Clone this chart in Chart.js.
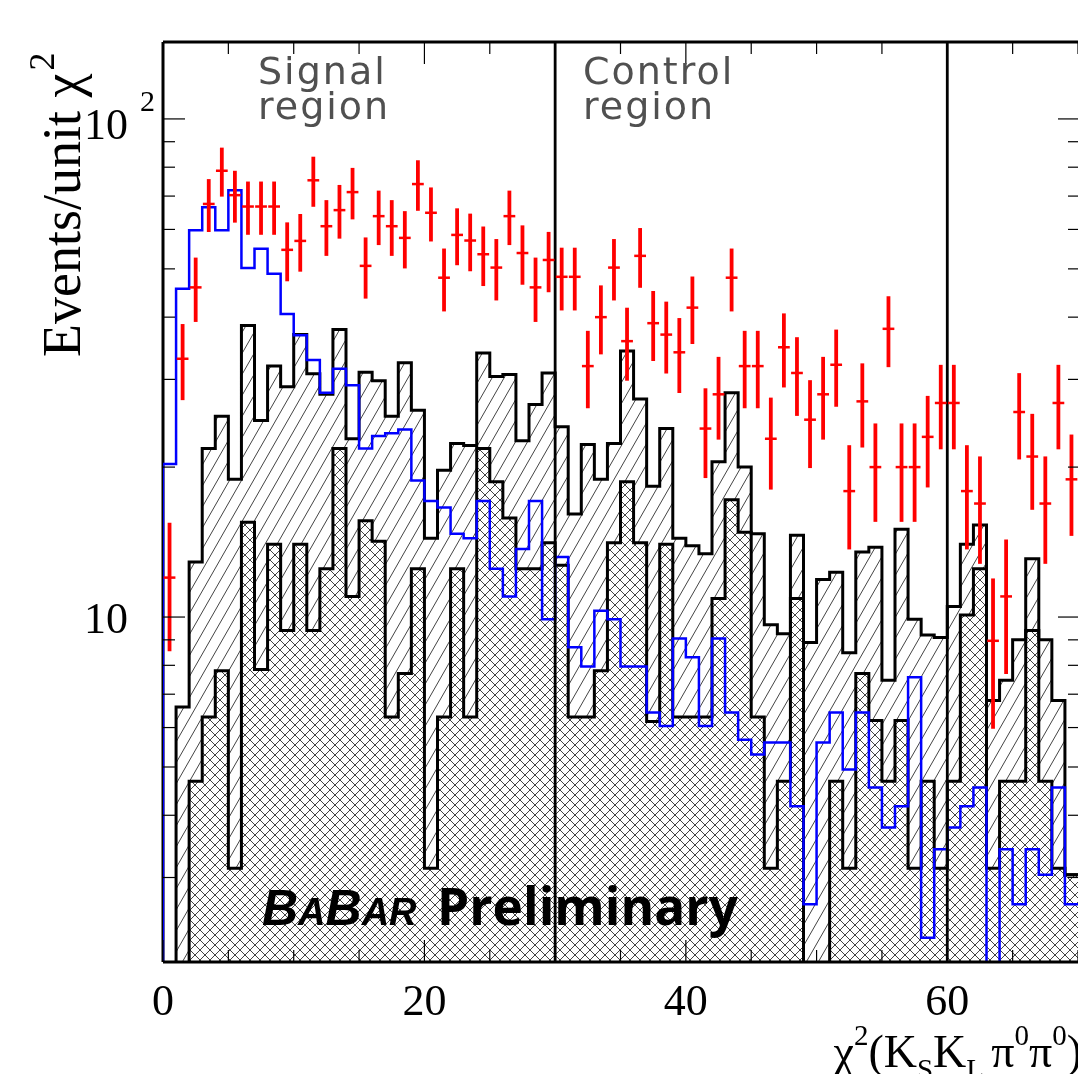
<!DOCTYPE html>
<html><head><meta charset="utf-8">
<script src="https://cdn.jsdelivr.net/npm/chart.js@4.4.1/dist/chart.umd.min.js"></script>
<style>html,body{margin:0;padding:0;background:#fff;overflow:hidden}#wrap{width:1078px;height:1074px;position:relative}</style>
</head><body><div id="wrap"><canvas id="c" width="1078" height="1074"></canvas></div>
<script>
// ---- data (bin width 1 unit of chi2) ----
const binLow = [0,1,2,3,4,5,6,7,8,9,10,11,12,13,14,15,16,17,18,19,20,21,22,23,24,25,26,27,28,29,30,31,32,33,34,35,36,37,38,39,40,41,42,43,44,45,46,47,48,49,50,51,52,53,54,55,56,57,58,59,60,61,62,63,64,65,66,67,68,69];
const dataPoints = [12.0,33.0,45.9,67.5,78.7,70.3,66.7,66.7,66.7,54.6,56.9,75.3,60.9,65.6,71.3,50.7,63.8,60.9,57.7,74.0,64.8,48.0,58.5,57.0,53.5,50.3,63.8,53.8,45.9,52.1,48.2,48.2,31.9,40.0,50.3,35.8,53.1,38.9,36.9,34.0,41.8,23.9,28.0,48.0,31.9,31.9,22.8,34.8,30.9,24.9,28.0,32.1,17.9,27.1,20.0,37.9,20.0,20.0,23.0,26.9,26.9,17.9,16.9,8.96,11.0,25.8,21.0,16.9,26.9,18.9];
const signalMC = [20.3,45.6,59.8,66.5,59.8,71.9,50.2,54.9,48.9,40.6,36.8,32.8,28.2,31.5,29.2,21.8,23.1,23.4,23.8,18.8,17.1,16.6,14.7,14.4,17.1,12.5,11.0,13.7,17.1,9.9,13.2,8.7,7.96,10.3,9.9,7.96,7.96,6.43,6.04,9.06,8.3,6.04,9.06,6.43,5.67,5.3,5.6,5.6,4.17,2.65,5.6,6.43,4.94,6.43,4.55,3.78,4.17,7.57,2.27,3.42,3.78,4.17,4.55,0,3.42,2.65,3.42,3.04,4.55,2.65];
const bkgTotal = [0,6.6,12.9,21.8,25.3,18.9,38.5,24.8,31.9,29.0,36.9,30.8,28.0,37.8,22.8,31.0,29.8,25.3,32.4,26.0,14.4,19.7,22.3,22.1,33.9,30.4,30.7,22.6,26.7,30.9,24.1,16.1,22.2,18.9,22.3,34.2,27.4,18.3,23.9,14.4,13.9,13.4,20.5,28.2,20.0,14.7,9.65,9.26,14.6,8.89,11.9,12.3,8.48,13.5,13.8,7.47,15.0,9.9,9.2,9.1,10.5,14.0,15.3,6.8,7.47,9.0,13.1,9.0,6.8,3.04];
const bkgLower = [0,0,4.68,6.3,7.8,3.13,15.5,7.85,14.0,9.4,14.0,9.4,12.5,21.8,11.0,15.6,14.2,6.3,7.7,12.5,3.13,6.3,12.5,6.3,21.8,18.7,15.8,12.5,12.5,14.1,12.7,6.3,6.3,7.8,14.1,18.7,14.1,6.17,14.0,6.3,6.3,6.3,10.9,17.2,14.8,6.3,3.13,4.68,10.9,0,0,4.68,3.13,7.7,6.2,4.68,6.2,3.13,4.68,3.13,4.68,10.1,12.5,3.13,4.68,4.68,9.4,4.68,3.13,3.04];
const regionLines = [30, 60];
const xTickLabels = [0, 20, 40, 60];
const xMinorTicks = [5,10,15,25,30,35,45,50,55,65,70];
const yMajorTicks = [10, 100];
const yMinorTicks = [3,4,5,6,7,8,9,20,30,40,50,60,70,80,90];
const BIN_W = 1;
const FLOOR = 1; // empty bins drawn below the axis

function hist(vals){
  const pts=[{x:binLow[0], y:FLOOR}];
  vals.forEach((v,i)=>pts.push({x:binLow[i], y: v>0?v:FLOOR}));
  const last=vals[vals.length-1];
  pts.push({x:binLow[vals.length-1]+BIN_W, y:last>0?last:FLOOR});
  return pts;
}
function makeHatch(){
  const w=12,h=21,c=document.createElement('canvas');c.width=w;c.height=h;
  const g=c.getContext('2d');g.fillStyle='#fff';g.fillRect(0,0,w,h);
  g.strokeStyle='#444';g.lineWidth=1;
  for(const dx of [-w,0,w]){g.beginPath();g.moveTo(dx,h);g.lineTo(dx+w,0);g.stroke();}
  return g.createPattern(c,'repeat');
}
function makeCross(){
  const w=10,c=document.createElement('canvas');c.width=w;c.height=w;
  const g=c.getContext('2d');g.fillStyle='#fff';g.fillRect(0,0,w,w);
  g.strokeStyle='#444';g.lineWidth=1;
  for(const dx of [-w,0,w]){
    g.beginPath();g.moveTo(dx,w);g.lineTo(dx+w,0);g.stroke();
    g.beginPath();g.moveTo(dx,0);g.lineTo(dx+w,w);g.stroke();
  }
  return g.createPattern(c,'repeat');
}

const SERIF='"Liberation Serif", "Times New Roman", serif';

const deco = {
  id:'deco',
  beforeDatasetsDraw(chart){
    const {ctx, chartArea:a}=chart;
    ctx.save();ctx.strokeStyle='#000';ctx.lineWidth=3;
    ctx.beginPath();ctx.moveTo(a.left,a.top);ctx.lineTo(a.left,a.bottom);ctx.stroke();
    ctx.restore();
  },
  afterDatasetsDraw(chart){
    const {ctx, chartArea:a, scales:{x:xs,y:ys}}=chart;
    ctx.save();
    // region boundaries
    ctx.strokeStyle='#000';ctx.lineWidth=2.8;
    regionLines.forEach(v=>{const px=xs.getPixelForValue(v);ctx.beginPath();ctx.moveTo(px,a.top);ctx.lineTo(px,a.bottom);ctx.stroke();});
    // data points with errors
    ctx.strokeStyle='#ff0000';
    dataPoints.forEach((v,i)=>{
      const xc=binLow[i]+BIN_W/2, err=Math.sqrt(v*BIN_W)/BIN_W;
      const px=xs.getPixelForValue(xc), py=ys.getPixelForValue(v);
      const pt=ys.getPixelForValue(v+err), pb=ys.getPixelForValue(v-err);
      const hl=xs.getPixelForValue(xc-0.45*BIN_W), hr=xs.getPixelForValue(xc+0.45*BIN_W);
      ctx.lineWidth=3.8;ctx.beginPath();ctx.moveTo(px,pt);ctx.lineTo(px,pb);ctx.stroke();
      ctx.lineWidth=2.5;ctx.beginPath();ctx.moveTo(hl,py);ctx.lineTo(hr,py);ctx.stroke();
    });
    // frame
    ctx.strokeStyle='#000';ctx.lineWidth=3;
    ctx.beginPath();ctx.moveTo(a.left,a.top);ctx.lineTo(a.right+10,a.top);ctx.stroke();
    ctx.beginPath();ctx.moveTo(a.left,a.bottom);ctx.lineTo(a.right+10,a.bottom);ctx.stroke();
    // ticks
    ctx.lineWidth=1.2;ctx.strokeStyle='#000';
    const rightEdge=a.right+6;
    const yt=(v,len)=>{const py=ys.getPixelForValue(v);
      ctx.beginPath();ctx.moveTo(a.left,py);ctx.lineTo(a.left+len,py);ctx.stroke();
      ctx.beginPath();ctx.moveTo(rightEdge,py);ctx.lineTo(rightEdge-len-4,py);ctx.stroke();};
    yMajorTicks.forEach(v=>yt(v,22));yMinorTicks.forEach(v=>yt(v,12));
    const xt=(v,len)=>{const px=xs.getPixelForValue(v);
      ctx.beginPath();ctx.moveTo(px,a.top);ctx.lineTo(px,a.top+len);ctx.stroke();
      ctx.beginPath();ctx.moveTo(px,a.bottom);ctx.lineTo(px,a.bottom-len);ctx.stroke();};
    xTickLabels.forEach(v=>xt(v,22));xMinorTicks.forEach(v=>xt(v,12));
    // tick labels
    ctx.fillStyle='#000';
    ctx.font='44px '+SERIF;ctx.textAlign='right';ctx.textBaseline='alphabetic';
    ctx.fillText('10',128,ys.getPixelForValue(10)+16);
    ctx.fillText('10',128,ys.getPixelForValue(100)+20);
    ctx.font='30px '+SERIF;ctx.textAlign='left';
    ctx.fillText('2',140,ys.getPixelForValue(100)-8);
    ctx.font='44px '+SERIF;ctx.textAlign='center';
    xTickLabels.forEach(v=>ctx.fillText(String(v),xs.getPixelForValue(v),1015));
    // y title
    ctx.save();ctx.translate(80,357);ctx.rotate(-Math.PI/2);
    ctx.textAlign='left';ctx.font='54px '+SERIF;
    const t1='Events/unit \u03c7';ctx.fillText(t1,0,0);
    const w1=ctx.measureText(t1).width;
    ctx.font='36px '+SERIF;ctx.fillText('2',w1+3,-26);
    ctx.restore();
    // x title
    const big='46px '+SERIF, small='29px '+SERIF;
    const parts=[['\u03c7',big,0],['2',small,-22],['(',big,0],['K',big,0],['S',small,12],['K',big,0],['L',small,12],[' ',small,0],['\u03c0',big,0],['0',small,-22],['\u03c0',big,0],['0',small,-22],[')',big,0]];
    let tot=0;parts.forEach(p=>{ctx.font=p[1];tot+=ctx.measureText(p[0]).width;});
    let cx=1082-tot;ctx.textAlign='left';
    parts.forEach(p=>{ctx.font=p[1];ctx.fillText(p[0],cx,1067+p[2]);cx+=ctx.measureText(p[0]).width;});
    // region labels
    ctx.fillStyle='#505050';ctx.font='38px "DejaVu Sans", sans-serif';
    ctx.letterSpacing='2px';
    ctx.fillText('Signal',258,84);ctx.fillText('region',258,119);
    ctx.fillText('Control',583,84);ctx.fillText('region',583,119);
    ctx.letterSpacing='0px';
    // BaBar Preliminary
    ctx.fillStyle='#000';
    const bigB='italic 700 50px "Liberation Sans", sans-serif', smallB='italic 700 38px "Liberation Sans", sans-serif';
    let bx=262;const by=925;
    [['B',bigB],['A',smallB],['B',bigB],['A',smallB],['R',smallB]].forEach(p=>{ctx.font=p[1];ctx.fillText(p[0],bx,by);bx+=ctx.measureText(p[0]).width;});
    ctx.font='700 100px "Open Sans", sans-serif';
    const wp=ctx.measureText('Preliminary').width;
    const fs=100*301/wp;
    ctx.font='700 '+fs.toFixed(1)+'px "Open Sans", sans-serif';
    ctx.fillText('Preliminary',437,by);
    ctx.restore();
  }
};

new Chart(document.getElementById('c'),{
  type:'line',
  data:{datasets:[
    {label:'Data',data:dataPoints.map((v,i)=>({x:binLow[i]+BIN_W/2,y:v})),showLine:false,pointRadius:0,borderColor:'#ff0000'},
    {label:'Signal MC',data:hist(signalMC),stepped:'before',borderColor:'#0000ff',borderWidth:2.5,pointRadius:0,fill:false},
    {label:'Background (lower)',data:hist(bkgLower),stepped:'before',borderColor:'#000',borderWidth:3,pointRadius:0,fill:'start',backgroundColor:makeCross()},
    {label:'Background (total)',data:hist(bkgTotal),stepped:'before',borderColor:'#000',borderWidth:3,pointRadius:0,fill:'start',backgroundColor:makeHatch()}
  ]},
  options:{
    responsive:false,animation:false,events:[],devicePixelRatio:1,
    layout:{padding:{left:163,top:42,right:0,bottom:112}},
    scales:{
      x:{type:'linear',min:0,max:70,display:false},
      y:{type:'logarithmic',min:2.03,max:142.7,display:false}
    },
    plugins:{legend:{display:false},tooltip:{enabled:false},filler:{drawTime:'beforeDatasetsDraw'}}
  },
  plugins:[deco]
});
</script></body></html>
